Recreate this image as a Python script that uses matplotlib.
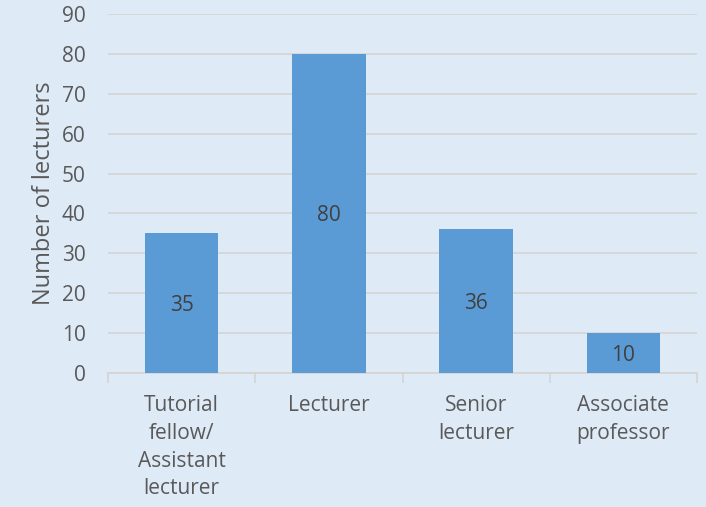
import matplotlib.pyplot as plt
import numpy as np

categories = ['Tutorial\nfellow/\nAssistant\nlecturer', 'Lecturer', 'Senior\nlecturer', 'Associate\nprofessor']
counts = [35, 80, 36, 10]
y_ticks = list(range(0, 100, 10))

plt.rcParams['font.family'] = ['Open Sans', 'DejaVu Sans']
bg = '#DEEAF6'
text_col = '#595959'
line_col = '#D4D4D4'

fig = plt.figure(figsize=(7.06, 5.07), dpi=100, facecolor=bg)
ax = fig.add_axes([108 / 706, (507 - 373) / 507, (697 - 108) / 706, (373 - 14) / 507])
ax.set_facecolor(bg)

x = np.arange(len(categories))
bars = ax.bar(x, counts, width=0.5, color='#5B9BD5', zorder=3)

# data labels in the middle of each bar
for b, v in zip(bars, counts):
    ax.text(b.get_x() + b.get_width() / 2, v / 2, str(v), ha='center', va='center_baseline',
            fontsize=15, color='#404040', zorder=4)

ax.set_xlim(-0.5, len(categories) - 0.5)
ax.set_ylim(0, 90)
ax.set_yticks(y_ticks)
ax.yaxis.grid(True, color=line_col, linewidth=1.2, zorder=0)
ax.tick_params(axis='y', length=0, labelsize=15, labelcolor=text_col, pad=16)

ax.set_xticks(x)
ax.set_xticklabels(categories, fontsize=15, color=text_col, linespacing=1.42)
ax.tick_params(axis='x', which='major', length=0, pad=16)
ax.set_xticks(np.arange(-0.5, len(categories)), minor=True)
ax.tick_params(axis='x', which='minor', length=7, width=1.2, color=line_col)

for s in ['top', 'right', 'left']:
    ax.spines[s].set_visible(False)
ax.spines['bottom'].set_color(line_col)
ax.spines['bottom'].set_linewidth(1.2)

ax.set_ylabel('Number of lecturers', fontsize=17, color=text_col, labelpad=4)

fig.savefig('out.png', dpi=100, facecolor=bg)
